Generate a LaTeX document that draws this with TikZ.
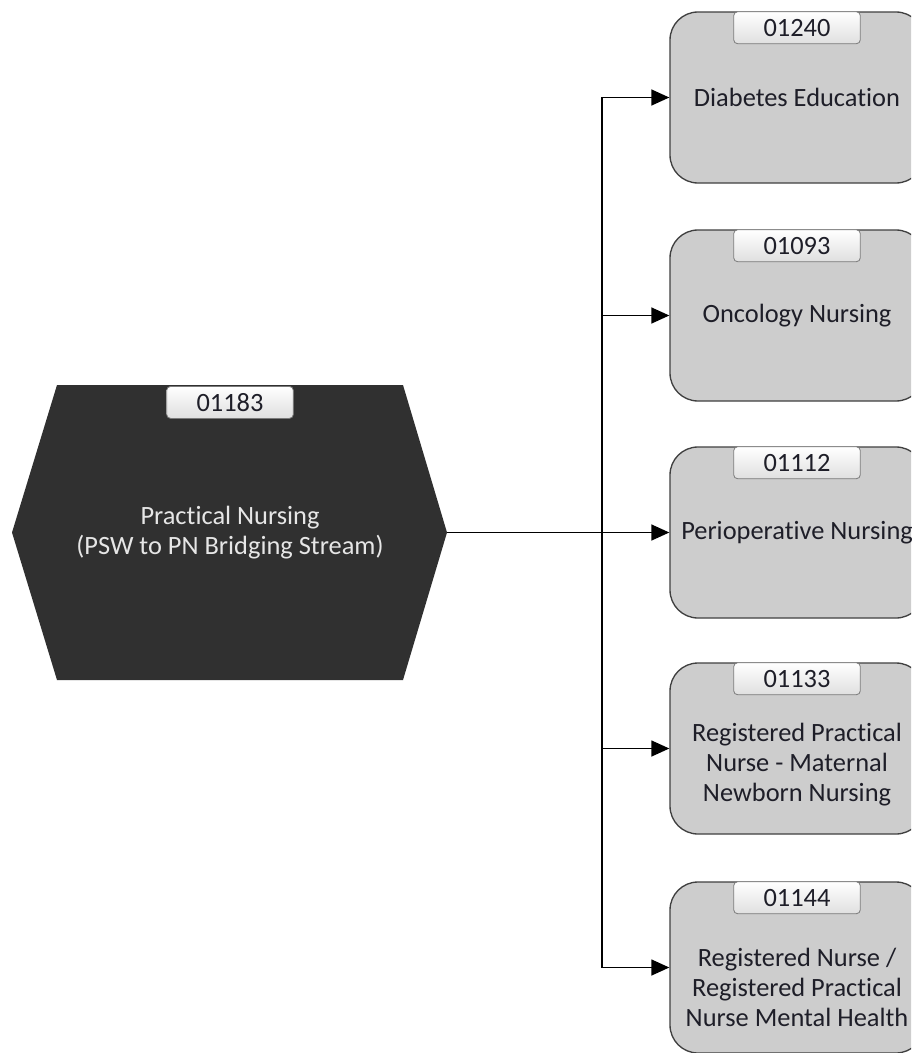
\documentclass[tikz,border=0pt]{standalone}
\usepackage{fontspec}
\setmainfont[Ligatures={NoCommon}]{Carlito}
\usetikzlibrary{arrows.meta}
\definecolor{hexfill}{HTML}{303030}
\definecolor{boxfill}{HTML}{CDCDCD}
\definecolor{boxline}{HTML}{404040}
\definecolor{txt}{HTML}{1E1E28}
\definecolor{hextxt}{HTML}{E6E6E6}
\definecolor{badgeline}{HTML}{7A7A7A}
\begin{document}
\begin{tikzpicture}[x=0.75pt,y=-0.75pt,
  box/.style={draw=boxline,line width=1pt,fill=boxfill,rounded corners=21pt,
    minimum width=190.5pt,minimum height=128.25pt,inner sep=0pt},
  badge/.style={draw=badgeline,line width=0.6pt,rounded corners=3pt,
    top color=white,bottom color=gray!25,minimum width=95pt,minimum height=24pt,
    anchor=north,inner sep=0pt,font=\fontsize{19.8}{22}\selectfont,text=txt},
  lbl/.style={align=center,font=\fontsize{19.8}{22.5}\selectfont,text=txt,inner sep=0pt},
  arr/.style={-{Triangle[length=13.5pt,width=12pt]},line width=1.1pt,black}]
\clip (0,0) rectangle (911,1053);
\fill[white] (0,0) rectangle (911,1053);
% source hexagon
\fill[hexfill] (57,385) -- (403,385) -- (447,532.5) -- (403,680) -- (57,680) -- (12,532.5) -- cycle;
\coordinate (hexR) at (447,532.5);
\node[badge] (c0) at (230,386) {01183};
\node[lbl,text=hextxt] (ht) at (230,532.5) {Practical Nursing\\(PSW to PN Bridging Stream)};
% target boxes
\node[box] (b1) at (797,97.5) {};
\node[box] (b2) at (797,315.5) {};
\node[box] (b3) at (797,532.5) {};
\node[box] (b4) at (797,748.5) {};
\node[box] (b5) at (797,967.5) {};
\node[badge] (c1) at (b1.north) {01240};
\node[badge] (c2) at (b2.north) {01093};
\node[badge] (c3) at (b3.north) {01112};
\node[badge] (c4) at (b4.north) {01133};
\node[badge] (c5) at (b5.north) {01144};
\node[lbl] (t1) at (797,97.5) {Diabetes Education};
\node[lbl] (t2) at (797,316) {Oncology Nursing};
\node[lbl] (t3) at (797,532.5) {Perioperative Nursing};
\node[lbl] (t4) at (797,765) {Registered Practical\\Nurse - Maternal\\Newborn Nursing};
\node[lbl] (t5) at (797,987) {Registered Nurse /\\Registered Practical\\Nurse Mental Health};
% connectors
\coordinate (J) at (602,532.5);
\draw[arr] (hexR) -- (b3.west);
\draw[arr] (J) |- (b1.west);
\draw[arr] (J) |- (b2.west);
\draw[arr] (J) |- (b4.west);
\draw[arr] (J) |- (b5.west);
\end{tikzpicture}
\end{document}
